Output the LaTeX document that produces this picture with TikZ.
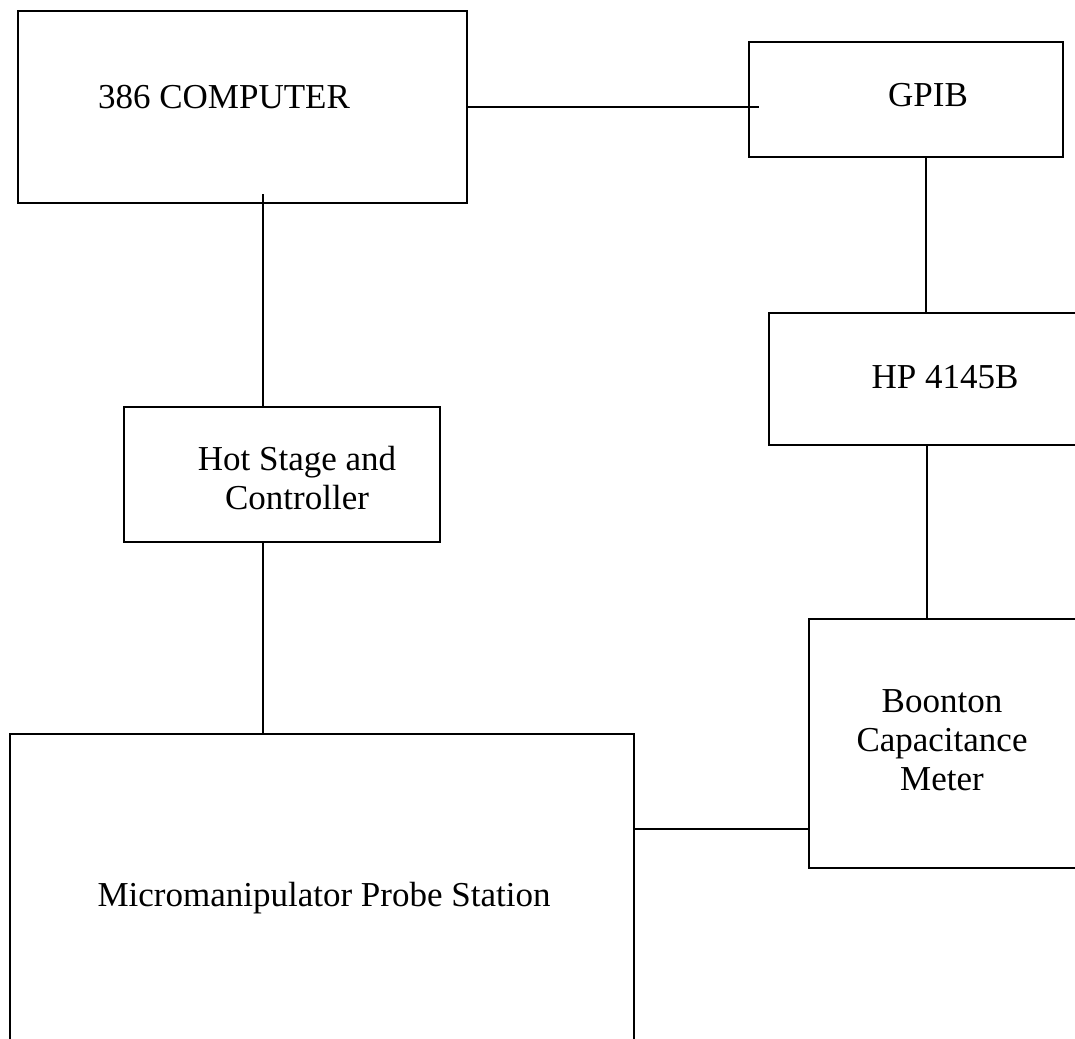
\documentclass[tikz,border=0pt]{standalone}
\usepackage{fontspec}
\setmainfont{Liberation Serif}
\begin{document}
\begin{tikzpicture}[x=1pt,y=-1pt,
  box/.style={draw, line width=1.8pt, rectangle, inner sep=0pt, anchor=north west},
  lbl/.style={inner sep=0pt, align=center, font=\fontsize{35}{39}\selectfont},
  wire/.style={line width=1.8pt}]
\useasboundingbox (0,0) rectangle (1075,1038);
\clip (0,0) rectangle (1075,1038);
\fill[white] (0,0) rectangle (1075,1038);
% boxes
\node[box, minimum width=449pt, minimum height=192pt] (comp) at (17,10) {};
\node[box, minimum width=314pt, minimum height=115pt] (gpib) at (748,41) {};
\node[box, minimum width=330pt, minimum height=132pt] (hp) at (768,312) {};
\node[box, minimum width=316pt, minimum height=135pt] (hot) at (123,406) {};
\node[box, minimum width=290pt, minimum height=249pt] (boon) at (808,618) {};
\node[box, minimum width=624pt, minimum height=330pt] (micro) at (9,733) {};
% labels
\node[lbl] (tcomp) at (224,97) {386 COMPUTER};
\node[lbl] (tgpib) at (928,95) {GPIB};
\node[lbl] (thp) at (945,377) {HP 4145B};
\node[lbl] (thot) at (297,478) {Hot Stage and\\Controller};
\node[lbl] (tboon) at (942,740) {Boonton\\Capacitance\\Meter};
\node[lbl] (tmicro) at (324,898) {Micromanipulator Probe Station};
% connectors
\coordinate (gpibin) at (759,107);
\coordinate (tapA) at (263,194);
\coordinate (tapB) at (926,156);
\coordinate (tapC) at (927,444);
\coordinate (tapD) at (633,829);
\draw[wire] (comp.east |- gpibin) -- (gpibin);
\draw[wire] (tapA) -- (tapA |- hot.north);
\draw[wire] (tapA |- hot.south) -- (tapA |- micro.north);
\draw[wire] (tapB) -- (tapB |- hp.north);
\draw[wire] (tapC) -- (tapC |- boon.north);
\draw[wire] (tapD) -- (tapD -| boon.west);
\end{tikzpicture}
\end{document}
